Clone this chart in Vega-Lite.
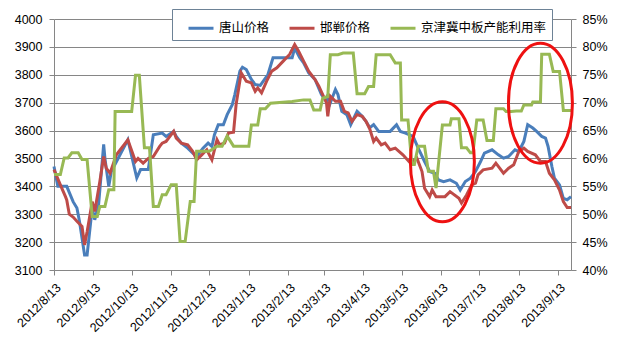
{
"$schema":"https://vega.github.io/schema/vega-lite/v6.json",
"width":517,"height":251,
"autosize":{"type":"none"},
"padding":{"left":54,"top":19,"right":46,"bottom":81},
"background":"white",
"config":{"view":{"stroke":null},
"axis":{"labelFont":"Liberation Sans","labelFontSize":12.5,"labelColor":"#000","domainColor":"#868686","tickColor":"#868686","gridColor":"#868686","tickSize":5,"title":null}},
"datasets":{
"price":[
{"d":"2012/8/13","s":"唐山价格","v":3471},{"d":"2012/8/16","s":"唐山价格","v":3400},{"d":"2012/8/23","s":"唐山价格","v":3400},{"d":"2012/8/28","s":"唐山价格","v":3345},{"d":"2012/8/31","s":"唐山价格","v":3322},{"d":"2012/9/2","s":"唐山价格","v":3275},{"d":"2012/9/6","s":"唐山价格","v":3154},{"d":"2012/9/8","s":"唐山价格","v":3154},{"d":"2012/9/12","s":"唐山价格","v":3322},{"d":"2012/9/14","s":"唐山价格","v":3280},{"d":"2012/9/17","s":"唐山价格","v":3333},{"d":"2012/9/21","s":"唐山价格","v":3550},{"d":"2012/9/22","s":"唐山价格","v":3500},{"d":"2012/9/25","s":"唐山价格","v":3400},{"d":"2012/9/27","s":"唐山价格","v":3453},{"d":"2012/10/10","s":"唐山价格","v":3567},{"d":"2012/10/17","s":"唐山价格","v":3430},{"d":"2012/10/20","s":"唐山价格","v":3460},{"d":"2012/10/26","s":"唐山价格","v":3460},{"d":"2012/10/30","s":"唐山价格","v":3585},{"d":"2012/11/6","s":"唐山价格","v":3591},{"d":"2012/11/9","s":"唐山价格","v":3579},{"d":"2012/11/15","s":"唐山价格","v":3597},{"d":"2012/11/17","s":"唐山价格","v":3579},{"d":"2012/11/21","s":"唐山价格","v":3555},{"d":"2012/11/26","s":"唐山价格","v":3537},{"d":"2012/11/30","s":"唐山价格","v":3519},{"d":"2012/12/3","s":"唐山价格","v":3507},{"d":"2012/12/8","s":"唐山价格","v":3537},{"d":"2012/12/12","s":"唐山价格","v":3555},{"d":"2012/12/15","s":"唐山价格","v":3543},{"d":"2012/12/17","s":"唐山价格","v":3585},{"d":"2012/12/20","s":"唐山价格","v":3621},{"d":"2012/12/24","s":"唐山价格","v":3621},{"d":"2012/12/27","s":"唐山价格","v":3657},{"d":"2012/12/31","s":"唐山价格","v":3693},{"d":"2013/1/2","s":"唐山价格","v":3729},{"d":"2013/1/6","s":"唐山价格","v":3813},{"d":"2013/1/8","s":"唐山价格","v":3827},{"d":"2013/1/11","s":"唐山价格","v":3819},{"d":"2013/1/15","s":"唐山价格","v":3783},{"d":"2013/1/18","s":"唐山价格","v":3765},{"d":"2013/1/22","s":"唐山价格","v":3762},{"d":"2013/1/28","s":"唐山价格","v":3801},{"d":"2013/2/1","s":"唐山价格","v":3861},{"d":"2013/2/16","s":"唐山价格","v":3861},{"d":"2013/2/18","s":"唐山价格","v":3896},{"d":"2013/2/22","s":"唐山价格","v":3861},{"d":"2013/2/25","s":"唐山价格","v":3843},{"d":"2013/3/1","s":"唐山价格","v":3807},{"d":"2013/3/6","s":"唐山价格","v":3783},{"d":"2013/3/11","s":"唐山价格","v":3729},{"d":"2013/3/15","s":"唐山价格","v":3705},{"d":"2013/3/16","s":"唐山价格","v":3729},{"d":"2013/3/18","s":"唐山价格","v":3699},{"d":"2013/3/22","s":"唐山价格","v":3747},{"d":"2013/3/24","s":"唐山价格","v":3729},{"d":"2013/3/27","s":"唐山价格","v":3669},{"d":"2013/3/31","s":"唐山价格","v":3657},{"d":"2013/4/3","s":"唐山价格","v":3621},{"d":"2013/4/8","s":"唐山价格","v":3669},{"d":"2013/4/12","s":"唐山价格","v":3651},{"d":"2013/4/15","s":"唐山价格","v":3633},{"d":"2013/4/18","s":"唐山价格","v":3610},{"d":"2013/4/21","s":"唐山价格","v":3621},{"d":"2013/4/25","s":"唐山价格","v":3597},{"d":"2013/5/4","s":"唐山价格","v":3597},{"d":"2013/5/9","s":"唐山价格","v":3621},{"d":"2013/5/12","s":"唐山价格","v":3597},{"d":"2013/5/16","s":"唐山价格","v":3591},{"d":"2013/5/22","s":"唐山价格","v":3579},{"d":"2013/5/26","s":"唐山价格","v":3537},{"d":"2013/5/31","s":"唐山价格","v":3489},{"d":"2013/6/4","s":"唐山价格","v":3453},{"d":"2013/6/8","s":"唐山价格","v":3447},{"d":"2013/6/11","s":"唐山价格","v":3423},{"d":"2013/6/15","s":"唐山价格","v":3417},{"d":"2013/6/20","s":"唐山价格","v":3423},{"d":"2013/6/25","s":"唐山价格","v":3411},{"d":"2013/6/28","s":"唐山价格","v":3387},{"d":"2013/7/2","s":"唐山价格","v":3417},{"d":"2013/7/6","s":"唐山价格","v":3429},{"d":"2013/7/10","s":"唐山价格","v":3453},{"d":"2013/7/14","s":"唐山价格","v":3489},{"d":"2013/7/17","s":"唐山价格","v":3519},{"d":"2013/7/23","s":"唐山价格","v":3531},{"d":"2013/7/28","s":"唐山价格","v":3513},{"d":"2013/8/1","s":"唐山价格","v":3501},{"d":"2013/8/5","s":"唐山价格","v":3507},{"d":"2013/8/10","s":"唐山价格","v":3531},{"d":"2013/8/13","s":"唐山价格","v":3525},{"d":"2013/8/17","s":"唐山价格","v":3561},{"d":"2013/8/20","s":"唐山价格","v":3621},{"d":"2013/8/24","s":"唐山价格","v":3609},{"d":"2013/8/27","s":"唐山价格","v":3597},{"d":"2013/8/31","s":"唐山价格","v":3579},{"d":"2013/9/3","s":"唐山价格","v":3573},{"d":"2013/9/5","s":"唐山价格","v":3543},{"d":"2013/9/8","s":"唐山价格","v":3471},{"d":"2013/9/10","s":"唐山价格","v":3429},{"d":"2013/9/14","s":"唐山价格","v":3405},{"d":"2013/9/17","s":"唐山价格","v":3357},{"d":"2013/9/20","s":"唐山价格","v":3352},{"d":"2013/9/23","s":"唐山价格","v":3363},
{"d":"2012/8/13","s":"邯郸价格","v":3460},{"d":"2012/8/18","s":"邯郸价格","v":3405},{"d":"2012/8/22","s":"邯郸价格","v":3363},{"d":"2012/8/23","s":"邯郸价格","v":3351},{"d":"2012/8/25","s":"邯郸价格","v":3300},{"d":"2012/8/28","s":"邯郸价格","v":3290},{"d":"2012/8/31","s":"邯郸价格","v":3275},{"d":"2012/9/4","s":"邯郸价格","v":3256},{"d":"2012/9/6","s":"邯郸价格","v":3190},{"d":"2012/9/8","s":"邯郸价格","v":3237},{"d":"2012/9/12","s":"邯郸价格","v":3345},{"d":"2012/9/14","s":"邯郸价格","v":3310},{"d":"2012/9/18","s":"邯郸价格","v":3417},{"d":"2012/9/21","s":"邯郸价格","v":3507},{"d":"2012/9/23","s":"邯郸价格","v":3465},{"d":"2012/9/26","s":"邯郸价格","v":3447},{"d":"2012/10/1","s":"邯郸价格","v":3513},{"d":"2012/10/10","s":"邯郸价格","v":3567},{"d":"2012/10/16","s":"邯郸价格","v":3489},{"d":"2012/10/18","s":"邯郸价格","v":3500},{"d":"2012/10/22","s":"邯郸价格","v":3483},{"d":"2012/10/26","s":"邯郸价格","v":3500},{"d":"2012/10/30","s":"邯郸价格","v":3507},{"d":"2012/11/4","s":"邯郸价格","v":3543},{"d":"2012/11/6","s":"邯郸价格","v":3555},{"d":"2012/11/9","s":"邯郸价格","v":3561},{"d":"2012/11/15","s":"邯郸价格","v":3597},{"d":"2012/11/17","s":"邯郸价格","v":3573},{"d":"2012/11/21","s":"邯郸价格","v":3555},{"d":"2012/11/26","s":"邯郸价格","v":3549},{"d":"2012/11/30","s":"邯郸价格","v":3525},{"d":"2012/12/3","s":"邯郸价格","v":3495},{"d":"2012/12/7","s":"邯郸价格","v":3513},{"d":"2012/12/11","s":"邯郸价格","v":3531},{"d":"2012/12/15","s":"邯郸价格","v":3495},{"d":"2012/12/19","s":"邯郸价格","v":3567},{"d":"2012/12/21","s":"邯郸价格","v":3549},{"d":"2012/12/25","s":"邯郸价格","v":3555},{"d":"2012/12/28","s":"邯郸价格","v":3591},{"d":"2013/1/1","s":"邯郸价格","v":3594},{"d":"2013/1/3","s":"邯郸价格","v":3693},{"d":"2013/1/7","s":"邯郸价格","v":3807},{"d":"2013/1/11","s":"邯郸价格","v":3777},{"d":"2013/1/15","s":"邯郸价格","v":3771},{"d":"2013/1/18","s":"邯郸价格","v":3741},{"d":"2013/1/20","s":"邯郸价格","v":3753},{"d":"2013/1/23","s":"邯郸价格","v":3735},{"d":"2013/1/27","s":"邯郸价格","v":3777},{"d":"2013/1/31","s":"邯郸价格","v":3813},{"d":"2013/2/4","s":"邯郸价格","v":3825},{"d":"2013/2/9","s":"邯郸价格","v":3849},{"d":"2013/2/14","s":"邯郸价格","v":3873},{"d":"2013/2/18","s":"邯郸价格","v":3908},{"d":"2013/2/21","s":"邯郸价格","v":3885},{"d":"2013/2/25","s":"邯郸价格","v":3849},{"d":"2013/3/1","s":"邯郸价格","v":3813},{"d":"2013/3/6","s":"邯郸价格","v":3783},{"d":"2013/3/9","s":"邯郸价格","v":3759},{"d":"2013/3/12","s":"邯郸价格","v":3729},{"d":"2013/3/15","s":"邯郸价格","v":3699},{"d":"2013/3/16","s":"邯郸价格","v":3651},{"d":"2013/3/18","s":"邯郸价格","v":3723},{"d":"2013/3/22","s":"邯郸价格","v":3705},{"d":"2013/3/26","s":"邯郸价格","v":3705},{"d":"2013/3/29","s":"邯郸价格","v":3669},{"d":"2013/4/1","s":"邯郸价格","v":3663},{"d":"2013/4/4","s":"邯郸价格","v":3633},{"d":"2013/4/8","s":"邯郸价格","v":3657},{"d":"2013/4/12","s":"邯郸价格","v":3651},{"d":"2013/4/15","s":"邯郸价格","v":3633},{"d":"2013/4/18","s":"邯郸价格","v":3605},{"d":"2013/4/21","s":"邯郸价格","v":3561},{"d":"2013/4/23","s":"邯郸价格","v":3573},{"d":"2013/4/27","s":"邯郸价格","v":3549},{"d":"2013/4/30","s":"邯郸价格","v":3555},{"d":"2013/5/4","s":"邯郸价格","v":3531},{"d":"2013/5/8","s":"邯郸价格","v":3537},{"d":"2013/5/14","s":"邯郸价格","v":3513},{"d":"2013/5/20","s":"邯郸价格","v":3483},{"d":"2013/5/25","s":"邯郸价格","v":3501},{"d":"2013/5/29","s":"邯郸价格","v":3453},{"d":"2013/5/31","s":"邯郸价格","v":3393},{"d":"2013/6/4","s":"邯郸价格","v":3363},{"d":"2013/6/6","s":"邯郸价格","v":3387},{"d":"2013/6/9","s":"邯郸价格","v":3363},{"d":"2013/6/16","s":"邯郸价格","v":3363},{"d":"2013/6/20","s":"邯郸价格","v":3381},{"d":"2013/6/27","s":"邯郸价格","v":3357},{"d":"2013/6/29","s":"邯郸价格","v":3340},{"d":"2013/7/3","s":"邯郸价格","v":3369},{"d":"2013/7/7","s":"邯郸价格","v":3405},{"d":"2013/7/10","s":"邯郸价格","v":3411},{"d":"2013/7/12","s":"邯郸价格","v":3441},{"d":"2013/7/16","s":"邯郸价格","v":3459},{"d":"2013/7/23","s":"邯郸价格","v":3465},{"d":"2013/7/26","s":"邯郸价格","v":3483},{"d":"2013/8/1","s":"邯郸价格","v":3447},{"d":"2013/8/5","s":"邯郸价格","v":3465},{"d":"2013/8/9","s":"邯郸价格","v":3477},{"d":"2013/8/13","s":"邯郸价格","v":3525},{"d":"2013/8/17","s":"邯郸价格","v":3537},{"d":"2013/8/20","s":"邯郸价格","v":3525},{"d":"2013/8/26","s":"邯郸价格","v":3513},{"d":"2013/8/30","s":"邯郸价格","v":3489},{"d":"2013/9/3","s":"邯郸价格","v":3489},{"d":"2013/9/6","s":"邯郸价格","v":3447},{"d":"2013/9/10","s":"邯郸价格","v":3423},{"d":"2013/9/14","s":"邯郸价格","v":3387},{"d":"2013/9/17","s":"邯郸价格","v":3345},{"d":"2013/9/20","s":"邯郸价格","v":3324},{"d":"2013/9/23","s":"邯郸价格","v":3324}
],
"util":[
{"d":"2012/8/13","u":57.1},{"d":"2012/8/18","u":57.1},{"d":"2012/8/21","u":60.1},{"d":"2012/8/24","u":60.1},{"d":"2012/8/27","u":61.0},{"d":"2012/9/1","u":61.0},{"d":"2012/9/4","u":59.8},{"d":"2012/9/8","u":59.8},{"d":"2012/9/12","u":49.6},{"d":"2012/9/16","u":49.6},{"d":"2012/9/18","u":51.4},{"d":"2012/9/22","u":51.4},{"d":"2012/9/25","u":54.4},{"d":"2012/9/29","u":54.4},{"d":"2012/9/30","u":68.4},{"d":"2012/10/13","u":68.4},{"d":"2012/10/16","u":74.9},{"d":"2012/10/19","u":74.9},{"d":"2012/10/23","u":61.9},{"d":"2012/10/27","u":61.9},{"d":"2012/10/30","u":51.4},{"d":"2012/11/3","u":51.4},{"d":"2012/11/6","u":53.5},{"d":"2012/11/9","u":53.5},{"d":"2012/11/13","u":55.3},{"d":"2012/11/17","u":55.3},{"d":"2012/11/20","u":45.1},{"d":"2012/11/24","u":45.1},{"d":"2012/11/28","u":52.3},{"d":"2012/12/1","u":52.3},{"d":"2012/12/3","u":61.3},{"d":"2012/12/13","u":61.3},{"d":"2012/12/19","u":62.2},{"d":"2012/12/23","u":62.2},{"d":"2012/12/27","u":64.0},{"d":"2013/1/1","u":62.2},{"d":"2013/1/13","u":62.2},{"d":"2013/1/15","u":66.0},{"d":"2013/1/20","u":66.0},{"d":"2013/1/22","u":68.9},{"d":"2013/1/26","u":68.9},{"d":"2013/1/30","u":69.9},{"d":"2013/2/16","u":70.2},{"d":"2013/2/25","u":70.5},{"d":"2013/3/2","u":70.5},{"d":"2013/3/5","u":68.7},{"d":"2013/3/10","u":68.7},{"d":"2013/3/12","u":70.8},{"d":"2013/3/16","u":71.1},{"d":"2013/3/18","u":78.6},{"d":"2013/3/24","u":78.6},{"d":"2013/3/28","u":78.9},{"d":"2013/4/5","u":78.9},{"d":"2013/4/8","u":71.6},{"d":"2013/4/14","u":71.6},{"d":"2013/4/17","u":72.9},{"d":"2013/4/21","u":72.9},{"d":"2013/4/23","u":78.6},{"d":"2013/5/4","u":78.6},{"d":"2013/5/8","u":77.1},{"d":"2013/5/12","u":77.1},{"d":"2013/5/13","u":66.9},{"d":"2013/5/18","u":66.9},{"d":"2013/5/21","u":58.9},{"d":"2013/5/23","u":58.9},{"d":"2013/5/26","u":62.2},{"d":"2013/5/31","u":62.2},{"d":"2013/6/3","u":57.7},{"d":"2013/6/7","u":57.7},{"d":"2013/6/9","u":54.7},{"d":"2013/6/14","u":66.0},{"d":"2013/6/20","u":66.0},{"d":"2013/6/21","u":67.1},{"d":"2013/6/27","u":67.1},{"d":"2013/6/29","u":61.9},{"d":"2013/7/3","u":61.9},{"d":"2013/7/6","u":61.0},{"d":"2013/7/8","u":61.0},{"d":"2013/7/11","u":66.9},{"d":"2013/7/16","u":66.9},{"d":"2013/7/19","u":63.2},{"d":"2013/7/24","u":63.2},{"d":"2013/7/26","u":68.9},{"d":"2013/8/1","u":68.9},{"d":"2013/8/3","u":68.4},{"d":"2013/8/7","u":68.4},{"d":"2013/8/11","u":68.5},{"d":"2013/8/15","u":68.5},{"d":"2013/8/17","u":69.6},{"d":"2013/8/23","u":69.6},{"d":"2013/8/24","u":70.1},{"d":"2013/8/30","u":70.1},{"d":"2013/8/31","u":78.7},{"d":"2013/9/6","u":78.7},{"d":"2013/9/9","u":75.6},{"d":"2013/9/14","u":75.6},{"d":"2013/9/17","u":68.6},{"d":"2013/9/23","u":68.6}
],
"marks":[{"d":"2013/6/14","u":59.4},{"d":"2013/8/30","u":69.9}]
},
"encoding":{"x":{"field":"d","type":"temporal",
"scale":{"domain":[{"year":2012,"month":8,"date":13},{"year":2013,"month":9,"date":23}],"nice":false},
"axis":{"values":[{"year":2012,"month":8,"date":13},{"year":2012,"month":9,"date":13},{"year":2012,"month":10,"date":13},{"year":2012,"month":11,"date":13},{"year":2012,"month":12,"date":13},{"year":2013,"month":1,"date":13},{"year":2013,"month":2,"date":13},{"year":2013,"month":3,"date":13},{"year":2013,"month":4,"date":13},{"year":2013,"month":5,"date":13},{"year":2013,"month":6,"date":13},{"year":2013,"month":7,"date":13},{"year":2013,"month":8,"date":13},{"year":2013,"month":9,"date":13}],
"format":"%Y/%-m/%-d","labelAngle":-45,"labelAlign":"right","labelBaseline":"top","labelPadding":6,"grid":false,"title":null,"labelOverlap":false,"labelFontSize":12.5}}},
"layer":[
{"data":{"name":"price"},
"mark":{"type":"line","strokeWidth":3},
"encoding":{
"y":{"field":"v","type":"quantitative","scale":{"domain":[3100,4000],"nice":false,"zero":false},
"axis":{"orient":"left","values":[3100,3200,3300,3400,3500,3600,3700,3800,3900,4000],"grid":true,"title":null,"labelPadding":7,"format":"d"}},
"color":{"field":"s","type":"nominal",
"scale":{"domain":["唐山价格","邯郸价格","京津冀中板产能利用率"],"range":["#4a7ebb","#be4b48","#98b954"]},
"legend":{"title":null,"orient":"none","legendX":118,"legendY":-10,"direction":"horizontal","symbolType":"stroke","symbolSize":625,"symbolStrokeWidth":3,"symbolOffset":10,"labelFont":"Noto Sans CJK SC","labelFontSize":12.5,"labelColor":"#000","labelOffset":4,"columnPadding":8,"padding":5,"fillColor":"white","strokeColor":"#6d8296"}}}},
{"layer":[
{"data":{"name":"util"},
"mark":{"type":"line","strokeWidth":3},
"encoding":{"color":{"datum":"京津冀中板产能利用率"}}},
{"data":{"name":"marks"},
"mark":{"type":"point","shape":"M0,-1 C0.2944,-1 0.533,-0.5523 0.533,0 C0.533,0.5523 0.2944,1 0,1 C-0.2944,1 -0.533,0.5523 -0.533,0 C-0.533,-0.5523 -0.2944,-1 0,-1 Z","size":14400,"filled":false,"stroke":"#ee1111","strokeWidth":3,"opacity":1}}
],
"encoding":{"y":{"field":"u","type":"quantitative","scale":{"domain":[40,85],"nice":false,"zero":false},
"axis":{"orient":"right","values":[40,45,50,55,60,65,70,75,80,85],"labelExpr":"datum.value + '%'","grid":false,"title":null,"labelPadding":6}}}}
],
"resolve":{"scale":{"y":"independent"}}
}
